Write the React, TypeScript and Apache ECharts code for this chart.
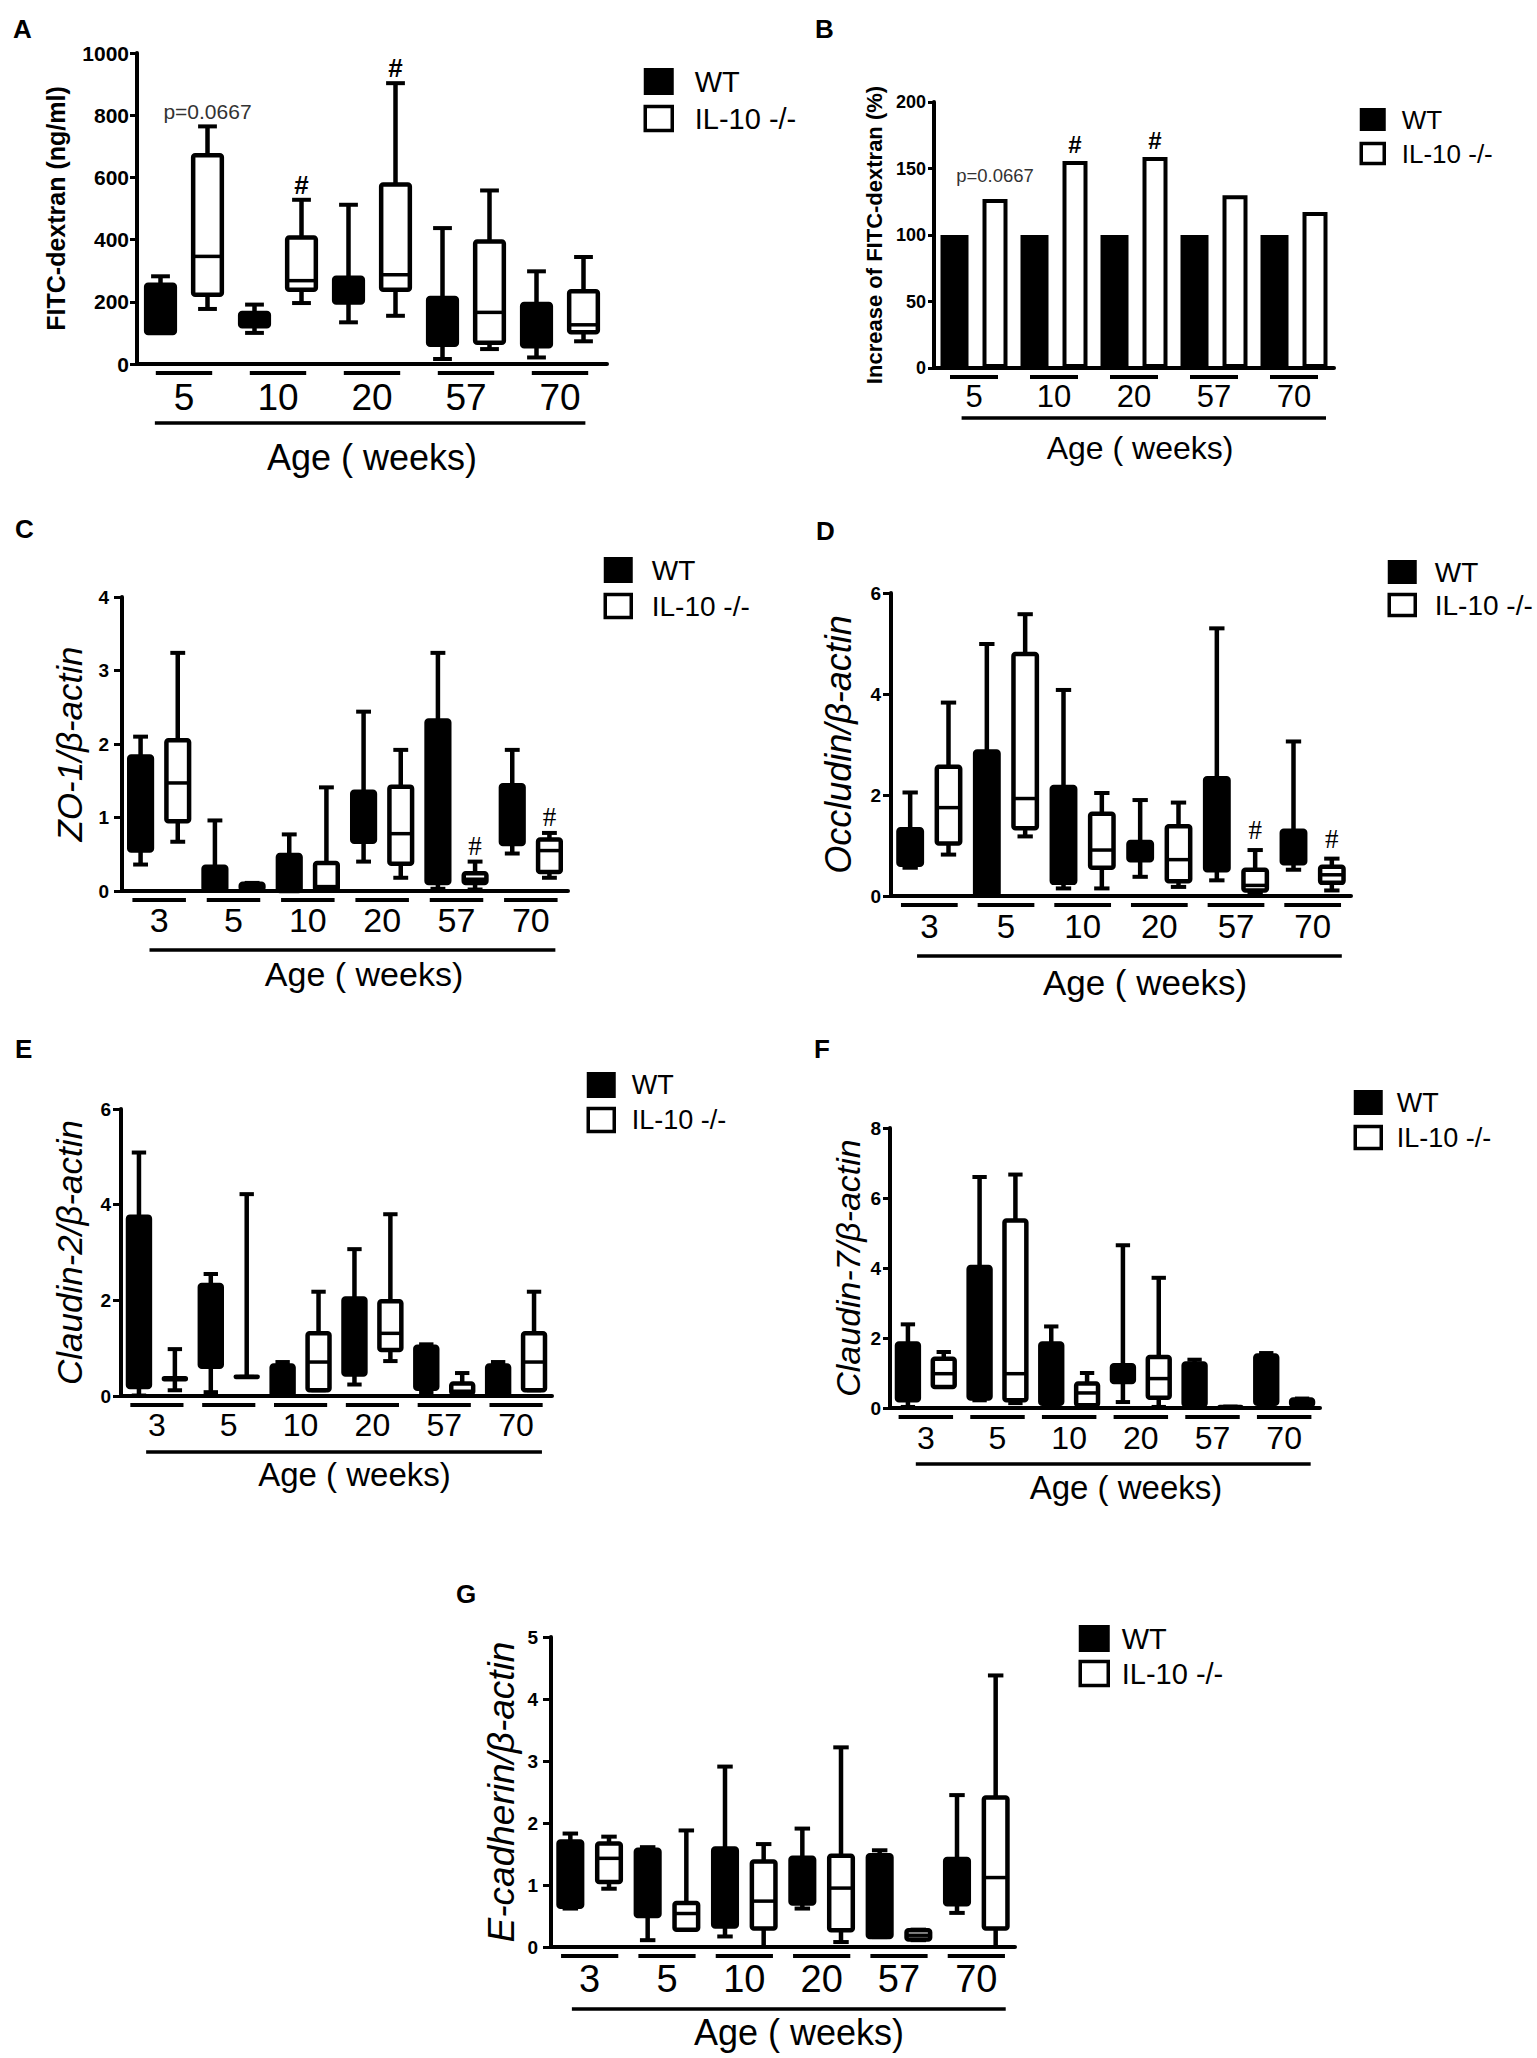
import React, { useEffect, useRef } from 'react';
import * as echarts from 'echarts';

const W = 1537;
const H = 2058;
const SANS = "'Liberation Sans', Arial, Helvetica, sans-serif";
const SERIF = "'Liberation Serif', 'Times New Roman', serif";

const seriesNames = ['WT', 'IL-10 -/-'];
const xAxisTitle = 'Age ( weeks)';
const panelLetters = ['A', 'B', 'C', 'D', 'E', 'F', 'G'];

// ---------- data: [min, q1, median, q3, max] ----------
const agesA = ['5', '10', '20', '57', '70'];
const wtA = [[100, 100, 150, 255, 282], [100, 121, 140, 164, 191], [134, 198, 240, 277, 512], [16, 62, 130, 212, 437], [21, 57, 120, 193, 298]];
const ilA = [[177, 223, 346, 671, 764], [196, 239, 268, 407, 528], [155, 239, 287, 577, 903], [48, 68, 166, 394, 558], [73, 102, 126, 234, 344]];
const annA = ['p=0.0667', '#', '#', '', ''];

const agesB = ['5', '10', '20', '57', '70'];
const wtB = [100, 100, 100, 100, 100];
const ilB = [127, 155.6, 158.6, 129.8, 117.3];
const annB = ['p=0.0667', '#', '#', '', ''];

const ages6 = ['3', '5', '10', '20', '57', '70'];

const wtC = [[0.36, 0.55, 1.2, 1.83, 2.10], [0, 0.01, 0.15, 0.33, 0.96], [0, 0, 0.2, 0.49, 0.77], [0.40, 0.67, 1.0, 1.35, 2.44], [0.03, 0.11, 1.2, 2.32, 3.24], [0.51, 0.64, 1.0, 1.44, 1.92]];
const ilC = [[0.67, 0.95, 1.47, 2.05, 3.24], [0.01, 0.02, 0.05, 0.10, 0.11], [0, 0.01, 0.06, 0.38, 1.41], [0.18, 0.37, 0.78, 1.42, 1.92], [0.02, 0.11, 0.16, 0.24, 0.40], [0.18, 0.26, 0.55, 0.70, 0.79]];
const annC = ['', '', '', '', '#', '#'];

const wtD = [[0.56, 0.62, 1.0, 1.32, 2.05], [0, 0.01, 1.0, 2.86, 4.99], [0.15, 0.26, 1.0, 2.16, 4.08], [0.38, 0.71, 0.9, 1.07, 1.90], [0.31, 0.51, 1.2, 2.33, 5.30], [0.52, 0.65, 0.9, 1.29, 3.06]];
const ilD = [[0.82, 1.04, 1.75, 2.56, 3.83], [1.18, 1.34, 1.93, 4.79, 5.58], [0.15, 0.56, 0.91, 1.63, 2.04], [0.18, 0.29, 0.72, 1.38, 1.85], [0.05, 0.11, 0.21, 0.52, 0.91], [0.11, 0.26, 0.42, 0.58, 0.74]];
const annD = ['', '', '', '', '#', '#'];

const wtE = [[0.01, 0.19, 2.0, 3.75, 5.09], [0.08, 0.61, 1.5, 2.32, 2.55], [0, 0.01, 0.3, 0.64, 0.71], [0.24, 0.45, 1.2, 2.04, 3.07], [0.08, 0.15, 0.6, 1.03, 1.08], [0, 0.01, 0.3, 0.64, 0.71]];
const ilE = [[0.12, 0.35, 0.36, 0.37, 0.98], [0.40, 0.40, 0.40, 0.40, 4.22], [0.12, 0.12, 0.71, 1.31, 2.18], [0.73, 0.96, 1.31, 1.98, 3.80], [0.01, 0.05, 0.10, 0.26, 0.48], [0.12, 0.12, 0.71, 1.31, 2.18]];
const annE = ['', '', '', '', '', ''];

const wtF = [[0.03, 0.22, 1.0, 1.84, 2.39], [0.22, 0.27, 2.0, 4.03, 6.60], [0.12, 0.12, 1.0, 1.84, 2.33], [0.17, 0.74, 1.0, 1.22, 4.65], [0.08, 0.08, 0.6, 1.27, 1.38], [0.12, 0.12, 0.8, 1.50, 1.57]];
const ilF = [[0.60, 0.60, 0.98, 1.41, 1.60], [0.14, 0.22, 0.98, 5.36, 6.67], [0.03, 0.08, 0.43, 0.70, 1.00], [0.03, 0.29, 0.84, 1.46, 3.72], [0.01, 0.01, 0.02, 0.03, 0.04], [0.08, 0.08, 0.16, 0.24, 0.27]];
const annF = ['', '', '', '', '', ''];

const wtG = [[0.62, 0.65, 1.2, 1.70, 1.83], [0.11, 0.50, 1.0, 1.57, 1.61], [0.17, 0.33, 1.0, 1.59, 2.91], [0.62, 0.70, 1.0, 1.44, 1.91], [0.16, 0.16, 0.8, 1.48, 1.56], [0.55, 0.69, 1.0, 1.42, 2.45]];
const ilG = [[0.94, 1.05, 1.43, 1.67, 1.78], [0.28, 0.28, 0.54, 0.71, 1.88], [0, 0.30, 0.74, 1.38, 1.66], [0.08, 0.27, 0.95, 1.47, 3.22], [0.11, 0.12, 0.19, 0.27, 0.28], [0, 0.30, 1.12, 2.41, 4.38]];
const annG = ['', '', '', '', '', ''];

const yTitles = ['FITC-dextran (ng/ml)', 'Increase of FITC-dextran (%)', 'ZO-1/\u03b2-actin', 'Occludin/\u03b2-actin', 'Claudin-2/\u03b2-actin', 'Claudin-7/\u03b2-actin', 'E-cadherin/\u03b2-actin'];
const yMax = [1000, 200, 4, 6, 6, 8, 5];
const yInterval = [200, 50, 1, 2, 2, 2, 1];

// ---------- layout (pixels) ----------
// left, top, width, height
const GRIDS = [
  [137, 53, 470, 311],
  [934, 102, 400, 266],
  [122, 597, 446, 294],
  [891, 593, 460, 303],
  [121, 1109, 431, 287],
  [890, 1128, 430, 280],
  [551, 1637, 464, 310],
];
// left, cap top
const LETTER_POS = [[13, 20], [815, 20], [15, 520], [816, 522], [15, 1040], [814, 1040], [456, 1585]];
// icon left, icon top, icon outer width, icon outer height, step, fontSize, text start
const LEGEND_POS = [
  [642, 68, 30, 27, 37, 29, 693],
  [1358, 108, 26, 23, 34, 26, 1400],
  [602, 557, 29, 26, 36, 28, 650],
  [1386, 560, 29, 24, 33, 28, 1433],
  [585, 1072, 29, 26, 35, 27, 630],
  [1352, 1090, 29, 25, 35, 27, 1395],
  [1077, 1625, 31, 27, 35, 29, 1120],
];
// label fontSize, label centre below axis, name fontSize, name centre below axis, name x shift
const XAXIS_STYLE = [
  [37, 33, 36, 93, 0],
  [31, 28, 32, 80, 6],
  [34, 28.5, 34, 82.5, 19],
  [33, 30, 35, 86, 24],
  [32, 29, 33, 78, 18],
  [32, 30, 33, 79, 21],
  [38, 32, 36, 85, 16],
];
// tick fontSize, tick length, label margin, name fontSize, name centre left of axis, bold, italic
const YAXIS_STYLE: any[] = [
  [21, 7, 8, 25, 81, true, false],
  [18, 6, 8, 22, 60, true, false],
  [19, 8, 13, 35, 53, false, true],
  [19, 8, 10, 36, 53, false, true],
  [19, 8, 10, 35, 52, false, true],
  [19, 7, 9, 34, 42, false, true],
  [19, 8, 13, 37, 50, false, true],
];
// underline half-width (band frac), long line left frac, right frac, long line below axis
const DECOR = [
  [0.3, 0.31, 0.27, 59],
  [0.3, 0.155, 0.40, 50],
  [0.36, 0.13, 0.33, 59],
  [0.37, 0.16, 0.38, 60],
  [0.37, 0.15, 0.36, 56],
  [0.38, 0.14, 0.37, 56],
  [0.37, 0.23, 0.38, 62],
];
const ANN_GAP = [15, 0, 16, 20, 16, 16, 16];
const LW = 4.5;

const annStyle = (panel: number, t: string) => {
  if (t.startsWith('p=')) return { fontSize: 21, fontFamily: SANS, fill: '#333', fontWeight: 'normal' };
  if (panel === 0) return { fontSize: 26, fontFamily: SANS, fill: '#000', fontWeight: 'bold' };
  return { fontSize: 27, fontFamily: SERIF, fill: '#000', fontWeight: 'normal' };
};

function boxRender(panel: number, offset: number, filled: boolean, ann: string[]) {
  return (params: any, api: any) => {
    const xi = api.value(0);
    const v = [1, 2, 3, 4, 5].map((k) => api.value(k));
    const band = api.size([1, 0])[0];
    const base = api.coord([xi, 0]);
    const cx = base[0] + offset * band;
    const ys = v.map((val: number) => api.coord([xi, val])[1]);
    const [yMin, yQ1, yMed, yQ3, yMaxP] = ys;
    const bw = 0.305 * band;
    const cw = 0.2 * band;
    const children: any[] = [
      { type: 'line', shape: { x1: cx, y1: yMaxP, x2: cx, y2: yMin }, style: { stroke: '#000', lineWidth: LW } },
      { type: 'line', shape: { x1: cx - cw / 2, y1: yMaxP, x2: cx + cw / 2, y2: yMaxP }, style: { stroke: '#000', lineWidth: 4 } },
      { type: 'line', shape: { x1: cx - cw / 2, y1: yMin, x2: cx + cw / 2, y2: yMin }, style: { stroke: '#000', lineWidth: 4 } },
      {
        type: 'rect',
        shape: { x: cx - bw / 2, y: yQ3, width: bw, height: Math.max(yQ1 - yQ3, 0.01), r: 2 },
        style: { fill: filled ? '#000' : '#fff', stroke: '#000', lineWidth: LW, lineJoin: 'round' },
      },
    ];
    if (!filled) {
      children.push({ type: 'line', shape: { x1: cx - bw / 2, y1: yMed, x2: cx + bw / 2, y2: yMed }, style: { stroke: '#000', lineWidth: 3.5 } });
    }
    const t = ann[params.dataIndex];
    if (t) {
      const st = annStyle(panel, t);
      children.push({
        type: 'text',
        x: cx,
        y: yMaxP - ANN_GAP[panel],
        style: { text: t, align: 'center', verticalAlign: 'middle', ...st },
      });
    }
    return { type: 'group', children };
  };
}

function decorRender(panel: number, n: number) {
  const [uf, bl, br, bdy] = DECOR[panel];
  return (params: any, api: any) => {
    const i = api.value(0);
    const band = api.size([1, 0])[0];
    const p = api.coord([i, 0]);
    const uy = p[1] + 9;
    const children: any[] = [
      { type: 'line', shape: { x1: p[0] - uf * band, y1: uy, x2: p[0] + uf * band, y2: uy }, style: { stroke: '#000', lineWidth: 4 } },
    ];
    if (params.dataIndex === 0) {
      const last = api.coord([n - 1, 0]);
      const by = p[1] + bdy;
      children.push({ type: 'line', shape: { x1: p[0] - bl * band, y1: by, x2: last[0] + br * band, y2: by }, style: { stroke: '#000', lineWidth: 3.5 } });
    }
    return { type: 'group', children };
  };
}

function buildOption() {
  const boxPanels = [
    { gi: 0, wt: wtA, il: ilA, ann: annA },
    { gi: 2, wt: wtC, il: ilC, ann: annC },
    { gi: 3, wt: wtD, il: ilD, ann: annD },
    { gi: 4, wt: wtE, il: ilE, ann: annE },
    { gi: 5, wt: wtF, il: ilF, ann: annF },
    { gi: 6, wt: wtG, il: ilG, ann: annG },
  ];
  const catsByGrid = [agesA, agesB, ages6, ages6, ages6, ages6, ages6];

  const series: any[] = [];
  boxPanels.forEach((p) => {
    series.push({
      type: 'custom', name: seriesNames[0], xAxisIndex: p.gi, yAxisIndex: p.gi, silent: true, z: 3,
      itemStyle: { color: '#000' },
      encode: { x: 0, y: [1, 2, 3, 4, 5] },
      data: p.wt.map((r, i) => [i, ...r]),
      renderItem: boxRender(p.gi, -0.25, true, p.ann.map(() => '')),
    });
    series.push({
      type: 'custom', name: seriesNames[1], xAxisIndex: p.gi, yAxisIndex: p.gi, silent: true, z: 3,
      itemStyle: { color: '#fff', borderColor: '#000' },
      encode: { x: 0, y: [1, 2, 3, 4, 5] },
      data: p.il.map((r, i) => [i, ...r]),
      renderItem: boxRender(p.gi, 0.25, false, p.ann),
    });
  });
  // panel B bars
  series.push({
    type: 'bar', name: seriesNames[0], xAxisIndex: 1, yAxisIndex: 1, silent: true,
    barWidth: 28, barGap: '50%',
    itemStyle: { color: '#000' },
    data: wtB,
  });
  series.push({
    type: 'bar', name: seriesNames[1], xAxisIndex: 1, yAxisIndex: 1, silent: true,
    barWidth: 25, barGap: '50%',
    itemStyle: { color: '#fff', borderColor: '#000', borderWidth: 4 },
    data: ilB.map((v, i) => {
      const t = annB[i];
      if (!t) return v;
      const lab = t === '#'
        ? { show: true, position: 'top', formatter: t, distance: 5, fontSize: 24, fontWeight: 'bold', fontFamily: SANS, color: '#000' }
        : { show: true, position: 'top', formatter: t, distance: 14, fontSize: 18.5, fontFamily: SANS, color: '#333' };
      return { value: v, label: lab };
    }),
  });
  // decorations (group underlines, long line)
  catsByGrid.forEach((cats, gi) => {
    series.push({
      type: 'custom', xAxisIndex: gi, yAxisIndex: gi, silent: true, z: 2,
      encode: { x: 0, y: 1 },
      data: cats.map((_, i) => [i, 0]),
      renderItem: decorRender(gi, cats.length),
    });
  });

  return {
    animation: false,
    backgroundColor: '#fff',
    title: panelLetters.map((l, i) => ({
      text: l, left: LETTER_POS[i][0], top: LETTER_POS[i][1] - 4, padding: 0,
      textStyle: { fontSize: 26, fontWeight: 'bold', fontFamily: SANS, color: '#000' },
    })),
    legend: LEGEND_POS.map((lp) => {
      const [il, it, ow, oh, step, fs, ts] = lp;
      const h = oh - 3;
      const w = ow - 3;
      const row = Math.max(h, fs);
      const left = il + 1.5;
      return {
        orient: 'vertical', left, top: it + 1.5 - (row - h) / 2, padding: 0,
        itemWidth: w, itemHeight: h, itemGap: step - row, icon: 'rect', selectedMode: false,
        textStyle: { fontSize: fs, fontFamily: SANS, color: '#000', padding: [0, 0, 0, Math.max(0, ts - (left + w + 5))] },
        data: [
          { name: seriesNames[0], itemStyle: { color: '#000', borderColor: '#000', borderWidth: 3 } },
          { name: seriesNames[1], itemStyle: { color: '#fff', borderColor: '#000', borderWidth: 3.5 } },
        ],
      };
    }),
    grid: GRIDS.map((g) => ({ left: g[0], top: g[1], width: g[2], height: g[3], containLabel: false, outerBoundsMode: 'none' })),
    xAxis: catsByGrid.map((cats, gi) => {
      const [lfs, ld, nfs, nd, shift] = XAXIS_STYLE[gi];
      return {
        type: 'category', gridIndex: gi, data: cats,
        axisLine: { show: true, lineStyle: { color: '#000', width: 4 } },
        axisTick: { show: false },
        axisLabel: { interval: 0, fontSize: lfs, fontFamily: SANS, color: '#000', margin: ld - lfs / 2 },
        splitLine: { show: false },
        name: xAxisTitle, nameLocation: 'middle', nameGap: nd - nfs / 2, nameMoveOverlap: false,
        nameTextStyle: { fontSize: nfs, fontFamily: SANS, color: '#000', padding: [0, 0, 0, shift * 2] },
      };
    }),
    yAxis: yMax.map((mx, gi) => {
      const [tfs, tlen, tmargin, nfs, nd, bold, italic] = YAXIS_STYLE[gi];
      return {
        type: 'value', gridIndex: gi, min: 0, max: mx, interval: yInterval[gi],
        axisLine: { show: true, lineStyle: { color: '#000', width: 4 } },
        axisTick: { show: true, inside: false, length: tlen, lineStyle: { color: '#000', width: 3 } },
        axisLabel: { fontSize: tfs, fontWeight: 'bold', fontFamily: SANS, color: '#000', margin: tmargin, formatter: (v: number) => String(v) },
        splitLine: { show: false },
        name: yTitles[gi], nameLocation: 'middle', nameGap: nd - nfs / 2, nameMoveOverlap: false,
        nameTextStyle: {
          fontSize: nfs, fontFamily: SANS, color: '#000',
          fontWeight: bold ? 'bold' : 'normal',
          fontStyle: italic ? 'italic' : 'normal',
        },
      };
    }),
    series,
  };
}

export default function App() {
  const ref = useRef<HTMLDivElement>(null);
  useEffect(() => {
    document.body.style.margin = '0';
    const el = ref.current!;
    const chart = echarts.init(el, null, { renderer: 'svg', width: W, height: H });
    chart.setOption(buildOption() as any);
    return () => chart.dispose();
  }, []);
  return <div ref={ref} style={{ position: 'absolute', left: 0, top: 0, width: W, height: H, background: '#fff' }} />;
}
